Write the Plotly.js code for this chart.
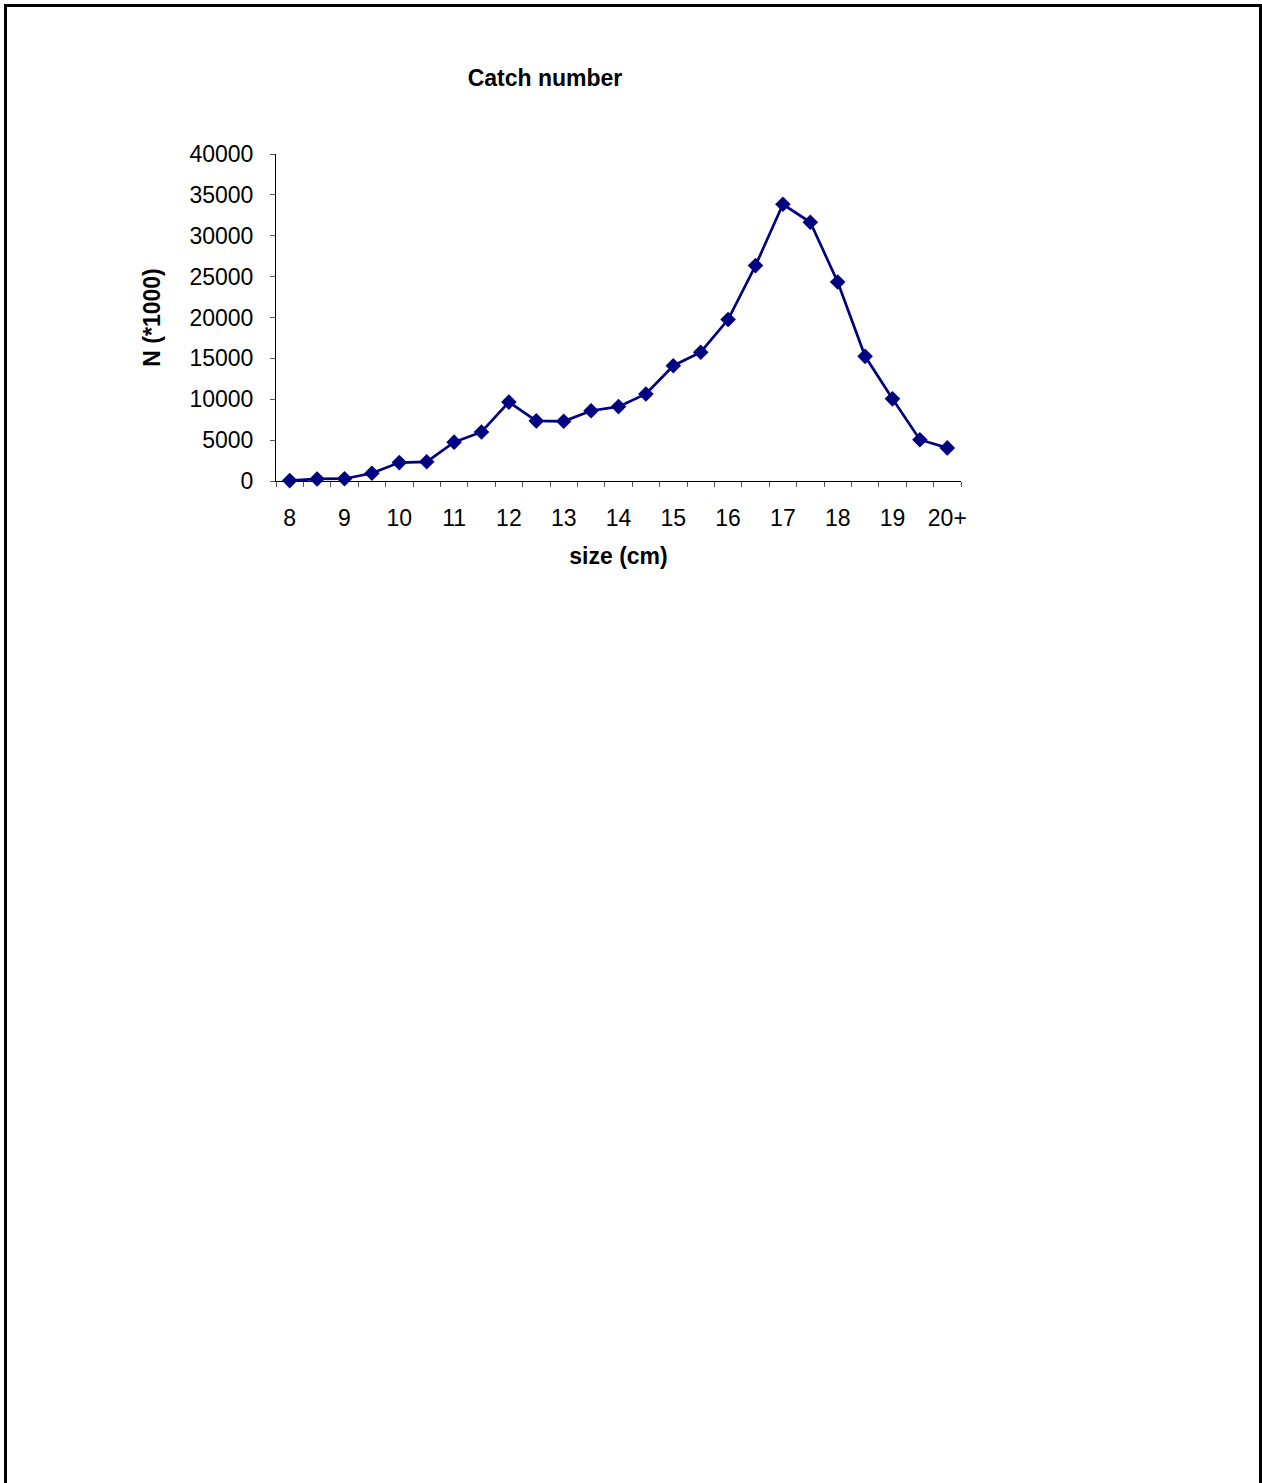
<!DOCTYPE html>
<html>
<head>
<meta charset="utf-8">
<title>Catch number</title>
<script src="https://cdn.plot.ly/plotly-3.0.1.min.js"></script>
<style>
  html, body { margin: 0; padding: 0; background: #fff; }
  #frame {
    position: absolute; left: 4px; top: 4px;
    width: 1252px; height: 1500px;
    border: 3px solid #000; border-bottom: none;
    box-sizing: content-box;
    pointer-events: none;
  }
  #chart { position: absolute; left: 0; top: 0; width: 1262px; height: 1483px; }
</style>
</head>
<body>
<div id="chart"></div>
<div id="frame"></div>
<script>
// Size classes (cm) and catch numbers in thousands
const sizeClasses = ["8", "8.5", "9", "9.5", "10", "10.5", "11", "11.5", "12", "12.5",
                     "13", "13.5", "14", "14.5", "15", "15.5", "16", "16.5", "17", "17.5",
                     "18", "18.5", "19", "19.5", "20+"];
const catchN = [50, 250, 280, 950, 2250, 2350, 4750, 6000, 9650, 7350,
                7300, 8600, 9100, 10650, 14100, 15750, 19750, 26350, 33850, 31650,
                24350, 15250, 10050, 5050, 4050];

const idx = sizeClasses.map((_, i) => i);
// label only the whole-centimetre classes and the plus group
const labelIdx = idx.filter(i => !sizeClasses[i].includes(".5"));
const labelText = labelIdx.map(i => sizeClasses[i]);
// small tick marks sit on the boundaries between classes
const boundaries = idx.map(i => i - 0.5).concat([sizeClasses.length - 0.5]);

const FONT = "Liberation Sans, Arial, sans-serif";
const NAVY = "#000080";
const FS = 23;

const trace = {
  x: idx,
  y: catchN,
  type: "scatter",
  mode: "lines+markers",
  line: { color: NAVY, width: 2.7 },
  marker: { symbol: "diamond", size: 12, color: NAVY },
  cliponaxis: false,
  hoverinfo: "x+y"
};

const layout = {
  width: 1262,
  height: 1483,
  paper_bgcolor: "#fff",
  plot_bgcolor: "#fff",
  margin: { l: 276, r: 301, t: 154, b: 1002, pad: 0 },
  showlegend: false,
  font: { family: FONT, color: "#000", size: FS },
  title: {
    text: "<b>Catch number</b>",
    font: { family: FONT, size: FS, color: "#000" },
    xref: "container", yref: "container",
    x: 545 / 1262, xanchor: "center",
    y: 1 - 78 / 1483, yanchor: "middle"
  },
  xaxis: {
    range: [-0.5, sizeClasses.length - 0.5],
    tickmode: "array",
    tickvals: labelIdx,
    ticktext: labelText,
    ticks: "outside",
    ticklen: 5,
    tickcolor: "rgba(0,0,0,0)",
    ticklabelstandoff: 11,
    tickfont: { family: FONT, size: FS },
    minor: {
      tickmode: "array",
      tickvals: boundaries,
      ticks: "outside",
      ticklen: 5,
      tickwidth: 1,
      tickcolor: "#555",
      showgrid: false
    },
    showline: true,
    linecolor: "#000",
    linewidth: 1,
    showgrid: false,
    zeroline: false,
    fixedrange: true,
    title: {
      text: "<b>size (cm)</b>",
      font: { family: FONT, size: FS },
      standoff: 18
    }
  },
  yaxis: {
    range: [0, 40000],
    tickmode: "linear",
    tick0: 0,
    dtick: 5000,
    tickformat: "d",
    ticks: "outside",
    ticklen: 5,
    tickwidth: 1,
    tickcolor: "#555",
    ticklabelstandoff: 12,
    tickfont: { family: FONT, size: FS },
    showline: true,
    linecolor: "#000",
    linewidth: 1,
    showgrid: false,
    zeroline: false,
    fixedrange: true,
    title: {
      text: "<b>N (*1000)</b>",
      font: { family: FONT, size: FS },
      standoff: 22
    }
  }
};

Plotly.newPlot("chart", [trace], layout, { displayModeBar: false, staticPlot: true });
</script>
</body>
</html>
